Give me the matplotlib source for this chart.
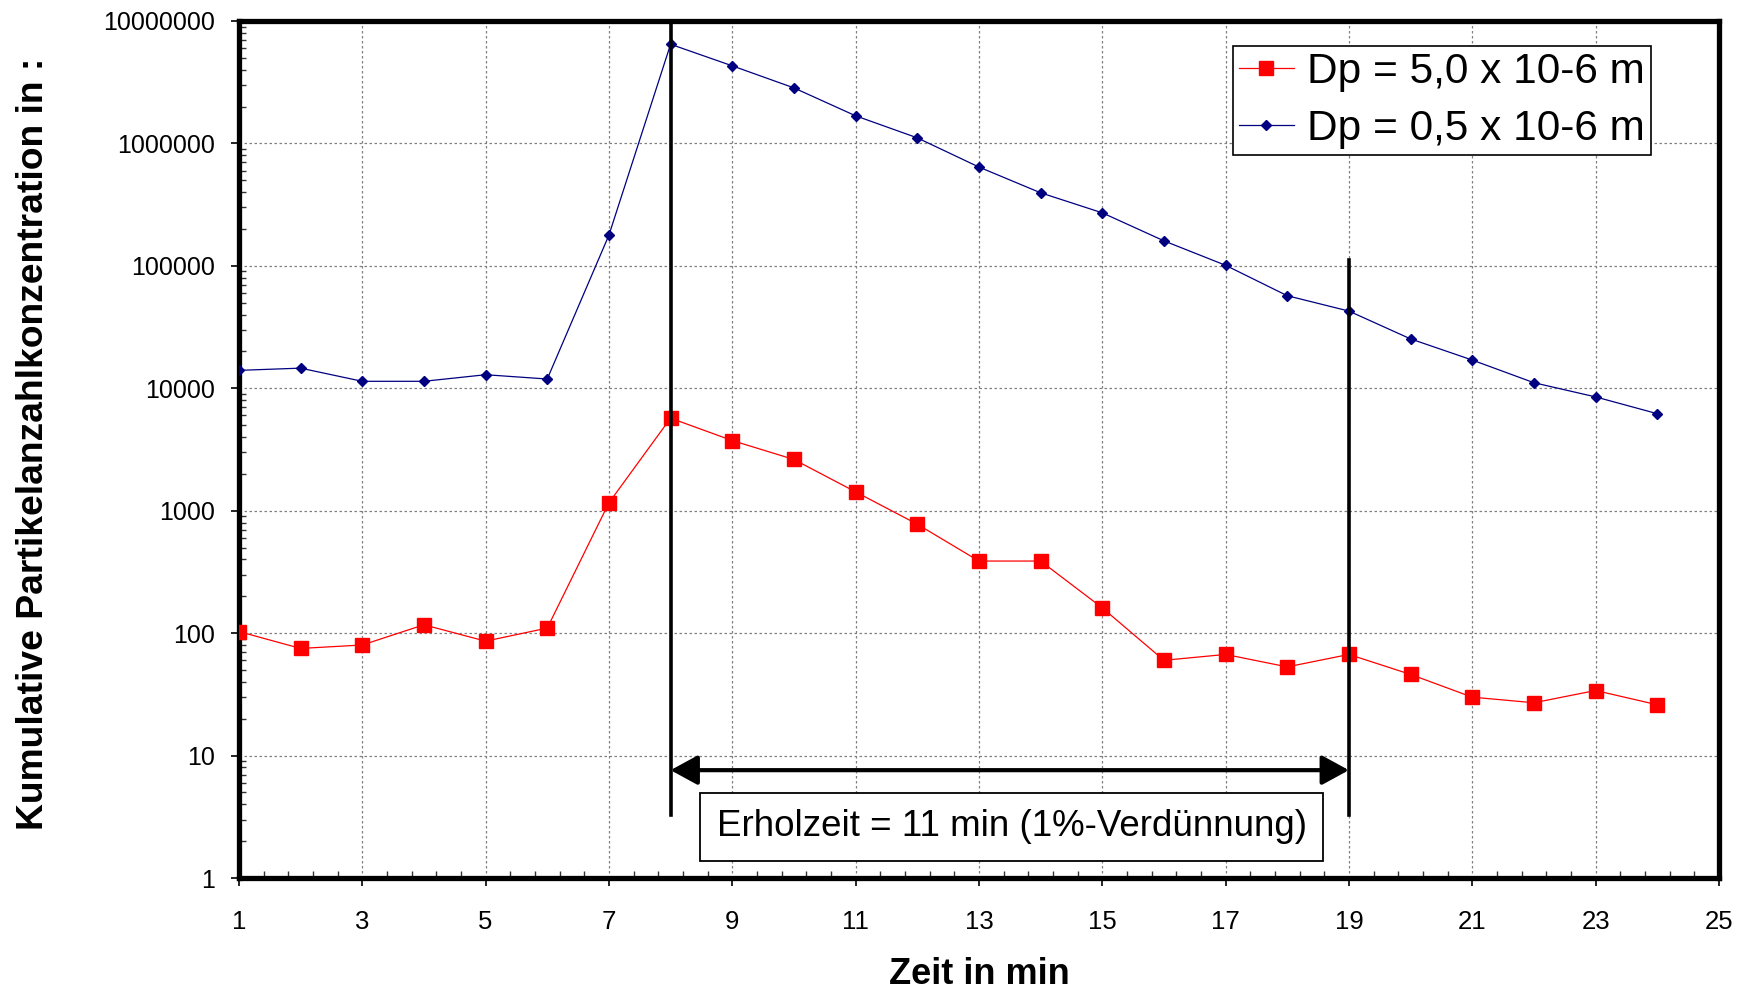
import numpy as np
import matplotlib.pyplot as plt
from matplotlib.ticker import FixedLocator, LogLocator, FuncFormatter, NullFormatter

# Zeit in min
minutes = list(range(1, 25))
# Dp = 5,0 x 10-6 m
dp_5_0 = [103, 75, 80, 117, 86, 110, 1160, 5700, 3740, 2620, 1425, 776,
          388, 388, 161, 60, 67, 53, 67, 46, 30, 27, 34, 26]
# Dp = 0,5 x 10-6 m
dp_0_5 = [14000, 14600, 11400, 11400, 12900, 11900, 178000, 6450000, 4300000,
          2840000, 1680000, 1110000, 641000, 395000, 271000, 160000, 101000,
          57000, 42700, 25300, 17000, 11100, 8500, 6200]

x_major = list(range(1, 26, 2))
y_major = [1, 10, 100, 1000, 10000, 100000, 1000000, 10000000]

# Erholzeit-Markierung
t_start, t_end = 8, 19
line_bottom = 3.25
line_top_end = 112000
arrow_y = 7.6
note_x, note_y = 13.53, 2.63
note_text = "Erholzeit = 11 min (1%-Verdünnung)"

plt.rcParams['font.family'] = ['Liberation Sans', 'DejaVu Sans']

fig = plt.figure(figsize=(17.49, 9.93), dpi=100)
ax = fig.add_axes([0.1366, 0.1158, 0.8462, 0.8631])

ax.plot(minutes, dp_5_0, color='#FF0000', lw=0.9, marker='s', ms=10.5,
        mec='#FF0000', mfc='#FF0000', label='Dp = 5,0 x 10-6 m', zorder=4)
ax.plot(minutes, dp_0_5, color='#000080', lw=0.9, marker='D', ms=5,
        mec='#000080', mfc='#000080', label='Dp = 0,5 x 10-6 m', zorder=4)

ax.set_yscale('log')
ax.set_xlim(1, 25)
ax.set_ylim(1, 1e7)

ax.xaxis.set_major_locator(FixedLocator(x_major))
ax.xaxis.set_minor_locator(FixedLocator(np.arange(1, 25.01, 0.4)))
ax.yaxis.set_major_locator(FixedLocator(y_major))
ax.yaxis.set_minor_locator(LogLocator(base=10, subs=np.arange(2, 10)))
ax.yaxis.set_major_formatter(FuncFormatter(lambda v, p: '%d' % round(v)))
ax.yaxis.set_minor_formatter(NullFormatter())

ax.tick_params(axis='both', which='major', labelsize=18, width=1.2,
               length=6, direction='out', color='black')
ax.tick_params(axis='x', which='major', labelsize=18.5, pad=17)
ax.tick_params(axis='y', which='major', pad=11)
ax.tick_params(axis='both', which='minor', direction='in', length=5,
               width=1, color='#333333')

ax.grid(True, which='major', color='#808080', lw=0.9, ls=(0, (2, 2)))

for s in ax.spines.values():
    s.set_linewidth(3.8)
    s.set_color('black')

# vertical markers
ax.plot([t_start, t_start], [line_bottom, 1e7], color='black', lw=2.6,
        zorder=5, clip_on=False)
ax.plot([t_end, t_end], [line_bottom, line_top_end], color='black', lw=2.6,
        zorder=5)
ax.annotate('', xy=(t_end, arrow_y), xytext=(t_start, arrow_y),
            arrowprops=dict(arrowstyle='<|-|>,head_length=0.55,head_width=0.3',
                            lw=3, color='black', mutation_scale=30,
                            shrinkA=0, shrinkB=0), zorder=5)
ax.text(note_x, note_y, note_text, fontsize=26.5, ha='center', va='center',
        zorder=6,
        bbox=dict(boxstyle='square,pad=0.45', fc='white', ec='black', lw=1.3))

leg = ax.legend(loc='upper right', bbox_to_anchor=(0.954, 0.971),
                borderaxespad=0, fontsize=30.5, fancybox=False, framealpha=1,
                edgecolor='black', handlelength=1.3, handletextpad=0.3,
                borderpad=0.15, labelspacing=0.4)
leg.get_frame().set_linewidth(1.2)

ax.set_xlabel('Zeit in min', fontsize=26, fontweight='bold', va='center')
ax.xaxis.set_label_coords(0.5, -0.112)
fig.text(0.019, 0.553, 'Kumulative Partikelanzahlkonzentration in :',
         fontsize=26.8, fontweight='bold', rotation=90, ha='center', va='center')

fig.savefig('out.png', dpi=100)
